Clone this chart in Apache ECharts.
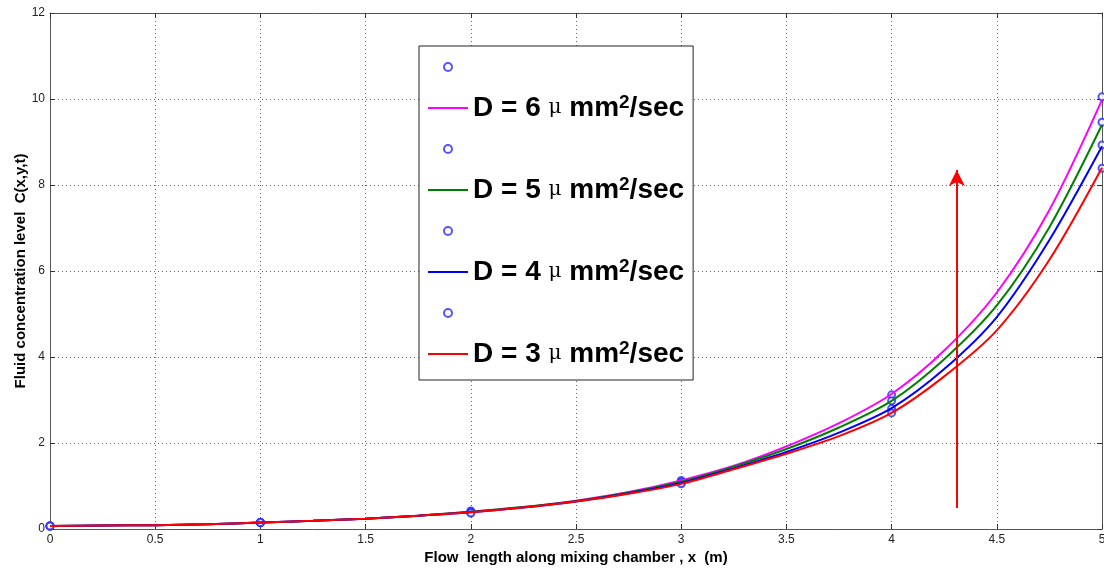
<!DOCTYPE html>
<html>
<head>
<meta charset="utf-8">
<script src="https://cdn.jsdelivr.net/npm/echarts@6/dist/echarts.min.js"></script>
<style>
html, body { margin: 0; padding: 0; background: #fff; }
#chart { width: 1104px; height: 577px; }
</style>
</head>
<body>
<div id="chart"></div>
<script>
// flow length x (m) for the curves
var xLine = [0, 0.25, 0.5, 0.75, 1, 1.25, 1.5, 1.75, 2, 2.25, 2.5, 2.75, 3, 3.25, 3.5, 3.75, 4, 4.25, 4.5, 4.75, 5];
var cD6 = [0.07, 0.08, 0.09, 0.11, 0.15, 0.19, 0.24, 0.31, 0.40, 0.51, 0.66, 0.86, 1.13, 1.47, 1.92, 2.46, 3.14, 4.15, 5.50, 7.42, 9.98];
var cD5 = [0.07, 0.08, 0.09, 0.11, 0.15, 0.19, 0.24, 0.31, 0.40, 0.51, 0.65, 0.85, 1.10, 1.45, 1.86, 2.36, 2.98, 3.95, 5.20, 7.02, 9.40];
var cD4 = [0.07, 0.08, 0.09, 0.11, 0.15, 0.19, 0.24, 0.31, 0.39, 0.50, 0.64, 0.83, 1.07, 1.41, 1.79, 2.24, 2.81, 3.72, 4.93, 6.72, 8.90];
var cD3 = [0.07, 0.08, 0.09, 0.11, 0.15, 0.19, 0.24, 0.31, 0.39, 0.50, 0.64, 0.82, 1.05, 1.39, 1.75, 2.16, 2.70, 3.55, 4.62, 6.26, 8.40];

// circle markers at whole metres
var xMark = [0, 1, 2, 3, 4, 5];
var mD6 = [0.07, 0.15, 0.42, 1.13, 3.12, 10.05];
var mD5 = [0.07, 0.15, 0.40, 1.10, 2.98, 9.46];
var mD4 = [0.07, 0.15, 0.38, 1.07, 2.80, 8.93];
var mD3 = [0.07, 0.15, 0.37, 1.05, 2.70, 8.39];

var dValues = [6, 5, 4, 3];
var lineColors = ['#ff00ff', '#008000', '#0000ff', '#ff0000'];
var xTicks = { min: 0, max: 5, interval: 0.5 };
var yTicks = { min: 0, max: 12, interval: 2 };

// arrow showing increasing D
var arrowX = 4.31;
var arrowFrom = 0.49;
var arrowTo = 8.35;

function pairs(xs, ys) {
	var out = [];
	for (var i = 0; i < xs.length; i++) out.push([xs[i], ys[i]]);
	return out;
}

var markColor = '#2a2aff';
var lineSets = [cD6, cD5, cD4, cD3];
var markSets = [mD6, mD5, mD4, mD3];
var series = [];
var legendData = [];
var blank = ' ';
for (var i = 0; i < dValues.length; i++) {
	var mName = blank;
	blank += ' ';
	var lName = 'D = ' + dValues[i] + ' \u03bc mm\u00b2/sec';
	series.push({
		name: mName,
		type: 'scatter',
		symbol: 'emptyCircle',
		symbolSize: 7,
		itemStyle: { color: markColor, borderWidth: 1 },
		data: pairs(xMark, markSets[i]),
		z: 2
	});
	series.push({
		name: lName,
		type: 'line',
		symbol: 'none',
		smooth: 0.3,
		lineStyle: { color: lineColors[i], width: 2 },
		itemStyle: { color: lineColors[i] },
		data: pairs(xLine, lineSets[i]),
		z: 3
	});
	legendData.push({ name: mName, icon: 'emptyCircle', itemStyle: { color: markColor, borderColor: markColor, borderWidth: 1 } });
	legendData.push({ name: lName, itemStyle: { opacity: 0 }, lineStyle: { color: lineColors[i], width: 2 } });
}

series[7].markLine = {
	silent: true,
	animation: false,
	symbol: ['none', 'arrow'],
	symbolSize: [12, 16],
	label: { show: false },
	lineStyle: { color: '#ff0000', width: 2, type: 'solid' },
	data: [[{ coord: [arrowX, arrowFrom] }, { coord: [arrowX, arrowTo] }]]
};

var gridLine = { show: true, lineStyle: { color: '#666', type: [1, 3], width: 1 } };
var axisTxt = { color: '#222', fontFamily: 'Liberation Sans', fontSize: 12 };
var axisName = { color: '#000', fontFamily: 'Liberation Sans', fontWeight: 'bold', fontSize: 15 };
var frameLine = { show: true, onZero: false, lineStyle: { color: '#555', width: 1 } };
var inTick = { show: true, inside: true, length: 5, lineStyle: { color: '#333' } };

var chart = echarts.init(document.getElementById('chart'));
chart.setOption({
	animation: false,
	backgroundColor: '#fff',
	grid: { left: 50, right: 2, top: 13, bottom: 48, outerBoundsMode: 'none', containLabel: false },
	legend: {
		orient: 'vertical',
		left: 419,
		top: 46,
		padding: [6, 9, 11, 8],
		backgroundColor: '#fff',
		borderColor: '#222',
		borderWidth: 1,
		itemWidth: 40,
		itemHeight: 8,
		itemGap: 11,
		selectedMode: false,
		data: legendData,
		formatter: function (name) {
			if (!name.trim()) return '{e|}';
			var d = name.split(' ')[2];
			return '{a|D = ' + d + ' }{mu|\u03bc}{a| mm}{sup|2}{a|/sec}';
		},
		textStyle: {
			height: 30,
			lineHeight: 30,
			rich: {
				a: { fontFamily: 'Liberation Sans', fontWeight: 'bold', fontSize: 28, color: '#000', lineHeight: 30 },
				mu: { fontFamily: 'DejaVu Serif', fontSize: 20, color: '#000', lineHeight: 30 },
				sup: { fontFamily: 'Liberation Sans', fontWeight: 'bold', fontSize: 19, color: '#000', verticalAlign: 'top', lineHeight: 24 },
				e: { height: 30, lineHeight: 30, fontSize: 28 }
			}
		}
	},
	xAxis: [{
		type: 'value',
		min: xTicks.min, max: xTicks.max, interval: xTicks.interval,
		name: 'Flow  length along mixing chamber , x  (m)',
		nameLocation: 'middle',
		nameGap: 21,
		nameMoveOverlap: false,
		nameTextStyle: axisName,
		axisLine: frameLine,
		axisTick: inTick,
		axisLabel: Object.assign({ margin: 5 }, axisTxt),
		splitLine: gridLine
	}, {
		type: 'value',
		position: 'top',
		min: xTicks.min, max: xTicks.max, interval: xTicks.interval,
		axisLine: frameLine,
		axisTick: inTick,
		axisLabel: { show: false },
		splitLine: { show: false }
	}],
	yAxis: [{
		type: 'value',
		min: yTicks.min, max: yTicks.max, interval: yTicks.interval,
		name: 'Fluid concentration level  C(x,y,t)',
		nameLocation: 'middle',
		nameGap: 22,
		nameMoveOverlap: false,
		nameTextStyle: axisName,
		axisLine: frameLine,
		axisTick: inTick,
		axisLabel: Object.assign({ margin: 5 }, axisTxt),
		splitLine: gridLine
	}, {
		type: 'value',
		position: 'right',
		min: yTicks.min, max: yTicks.max, interval: yTicks.interval,
		axisLine: frameLine,
		axisTick: inTick,
		axisLabel: { show: false },
		splitLine: { show: false }
	}],
	series: series
});
</script>
</body>
</html>
